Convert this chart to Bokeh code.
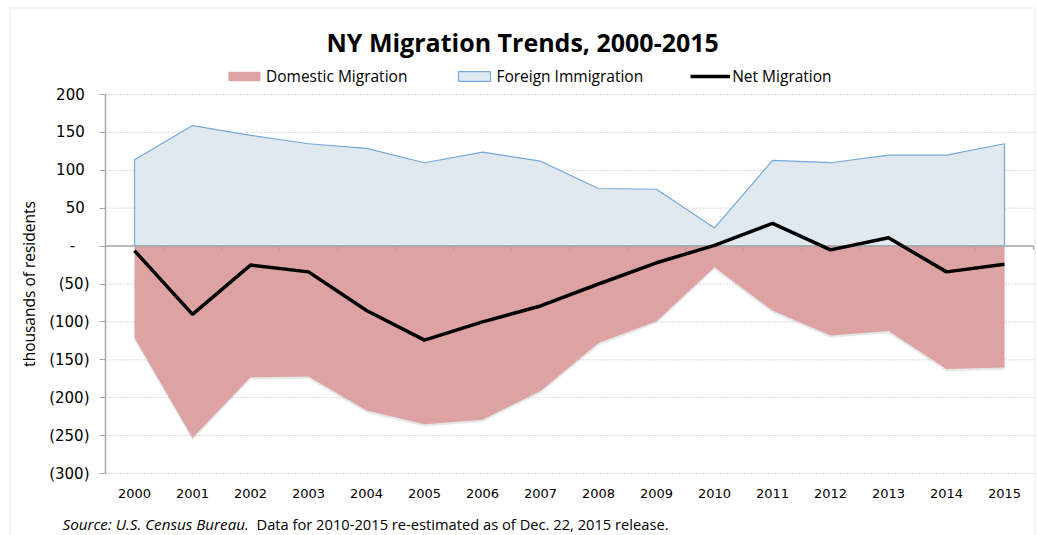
from bokeh.plotting import figure
from bokeh.models import Range1d, FixedTicker, Legend, LegendItem, Label, BoxAnnotation
from bokeh.embed import file_html
from bokeh.resources import INLINE

# ---- data (thousands of residents) ----
years = list(range(2000, 2016))
foreign = [114, 159, 146, 135, 129, 110, 124, 112, 76, 75, 24, 113, 110, 120, 120, 135]
domestic = [-121, -253, -173, -172, -217, -235, -229, -191, -128, -99, -28, -85, -118, -112, -162, -160]
net = [-6, -90, -25, -34, -85, -124, -100, -79, -50, -22, 1, 30, -5, 11, -34, -24]

y_ticks = [-300, -250, -200, -150, -100, -50, 0, 50, 100, 150, 200]
y_tick_labels = ["(300)", "(250)", "(200)", "(150)", "(100)", "(50)", "-\u2007\u00a0",
                 "50\u00a0", "100\u00a0", "150\u00a0", "200\u00a0"]

title_text = "NY Migration Trends, 2000-2015"
source_italic = "Source: U.S. Census Bureau."
source_rest = "Data for 2010-2015 re-estimated as of Dec. 22, 2015 release."

TICK_FONT = "DejaVu Sans"
TEXT_FONT = "Open Sans"

# ---- layout (pixels): the plot frame covers the whole canvas; the data area sits inside it
W, H = 1037, 535
AREA_L, AREA_R, AREA_T, AREA_B = 105, 1033, 94, 473
x_lo, x_hi = years[0] - 0.5, years[-1] + 0.5
y_lo, y_hi = y_ticks[0], y_ticks[-1]
kx = (AREA_R - AREA_L) / (x_hi - x_lo)
ky = (AREA_B - AREA_T) / (y_hi - y_lo)
x_range = Range1d(x_lo - AREA_L / kx, x_hi + (W - AREA_R) / kx)
y_range = Range1d(y_lo - (H - AREA_B) / ky, y_hi + AREA_T / ky)

p = figure(width=W, height=H, output_backend="svg", toolbar_location=None,
           x_range=x_range, y_range=y_range, title_location=None,
           min_border_left=0, min_border_right=0, min_border_top=0, min_border_bottom=0)
p.outline_line_color = None
p.background_fill_color = "white"
p.border_fill_color = "white"
p.grid.visible = False

# x axis at the bottom of the data area
p.xaxis.fixed_location = y_lo
p.xaxis.bounds = (x_lo, x_hi)
p.xaxis.ticker = FixedTicker(ticks=years)
p.xaxis.formatter.use_scientific = False
p.xaxis.axis_line_color = None
p.xaxis.major_tick_line_color = None
p.xaxis.minor_tick_line_color = None
p.xaxis.major_label_standoff = 9
p.xaxis.major_label_text_font = TICK_FONT
p.xaxis.major_label_text_font_size = "13px"
p.xaxis.major_label_text_color = "black"

# y axis at the left of the data area
p.yaxis.fixed_location = x_lo
p.yaxis.bounds = (y_lo, y_hi)
p.yaxis.ticker = FixedTicker(ticks=y_ticks)
p.yaxis.major_label_overrides = {t: l for t, l in zip(y_ticks, y_tick_labels)}
p.yaxis.axis_line_color = "#a6a6a6"
p.yaxis.axis_line_width = 1.5
p.yaxis.major_tick_line_color = "#a6a6a6"
p.yaxis.major_tick_out = 6
p.yaxis.major_tick_in = 0
p.yaxis.minor_tick_line_color = None
p.yaxis.major_label_standoff = 10
p.yaxis.major_label_text_font = TICK_FONT
p.yaxis.major_label_text_font_size = "15px"
p.yaxis.major_label_text_color = "black"
p.yaxis.axis_label = "thousands of residents"
p.yaxis.axis_label_text_font = TEXT_FONT
p.yaxis.axis_label_text_font_style = "normal"
p.yaxis.axis_label_text_font_size = "15.5px"
p.yaxis.axis_label_text_color = "black"
p.yaxis.axis_label_standoff = 6

# dotted horizontal gridlines across the data area
grid_y = [t for t in y_ticks if t != 0]
p.segment(x0=[x_lo] * len(grid_y), y0=grid_y, x1=[x_hi] * len(grid_y), y1=grid_y,
          line_color="#b5b5b5", line_dash="1 2", line_width=1)

# areas
ax = [years[0]] + years + [years[-1]]
fy = [0] + foreign + [0]
dy = [0] + domestic + [0]
blue = p.patch(ax, fy, fill_color="#e0e8f0", line_color="#74a9dd", line_width=1.2)
p.patch(ax, [v - 3 for v in dy], fill_color="#9a9a9a", fill_alpha=0.25, line_color=None)
red = p.patch(ax, dy, fill_color="#dca3a2", line_color=None)

# zero axis line with category-boundary ticks
p.segment(x0=[x_lo], y0=[0], x1=[x_hi], y1=[0], line_color="#a6a6a6", line_width=1.5)
bounds = [y + 0.5 for y in years]
p.segment(x0=bounds, y0=[0] * len(bounds), x1=bounds, y1=[-5.5] * len(bounds),
          line_color="#a6a6a6", line_width=1.2)

netl = p.line(years, net, line_color="black", line_width=3.5)

legend = Legend(items=[LegendItem(label="Domestic Migration", renderers=[red]),
                       LegendItem(label="Foreign Immigration", renderers=[blue]),
                       LegendItem(label="Net Migration", renderers=[netl])],
                orientation="horizontal", location=(224, 448),
                border_line_color=None, background_fill_alpha=0,
                padding=0, margin=0, spacing=47, glyph_width=40, glyph_height=12,
                label_standoff=2, label_text_font=TEXT_FONT, label_text_font_size="15.5px",
                label_text_color="black")
p.add_layout(legend, "center")

p.add_layout(Label(x=326, y=H - 41.7, x_units="screen", y_units="screen", text=title_text,
                   text_font=TEXT_FONT, text_font_style="bold", text_font_size="25px",
                   text_color="black", text_baseline="alphabetic"))
p.add_layout(Label(x=62, y=H - 523, x_units="screen", y_units="screen", text=source_italic,
                   text_font=TEXT_FONT, text_font_style="italic", text_font_size="15.2px",
                   text_color="black", text_baseline="alphabetic"))
p.add_layout(Label(x=256, y=H - 523, x_units="screen", y_units="screen", text=source_rest,
                   text_font=TEXT_FONT, text_font_size="14.7px",
                   text_color="black", text_baseline="alphabetic"))

# chart border
p.add_layout(BoxAnnotation(left=9.5, right=1034.5, top=H - 7.5, bottom=-5,
                           left_units="screen", right_units="screen",
                           top_units="screen", bottom_units="screen",
                           fill_alpha=0, line_color="#c0c0c0", line_width=1.2))

open("out.html", "w").write(file_html(p, INLINE))
